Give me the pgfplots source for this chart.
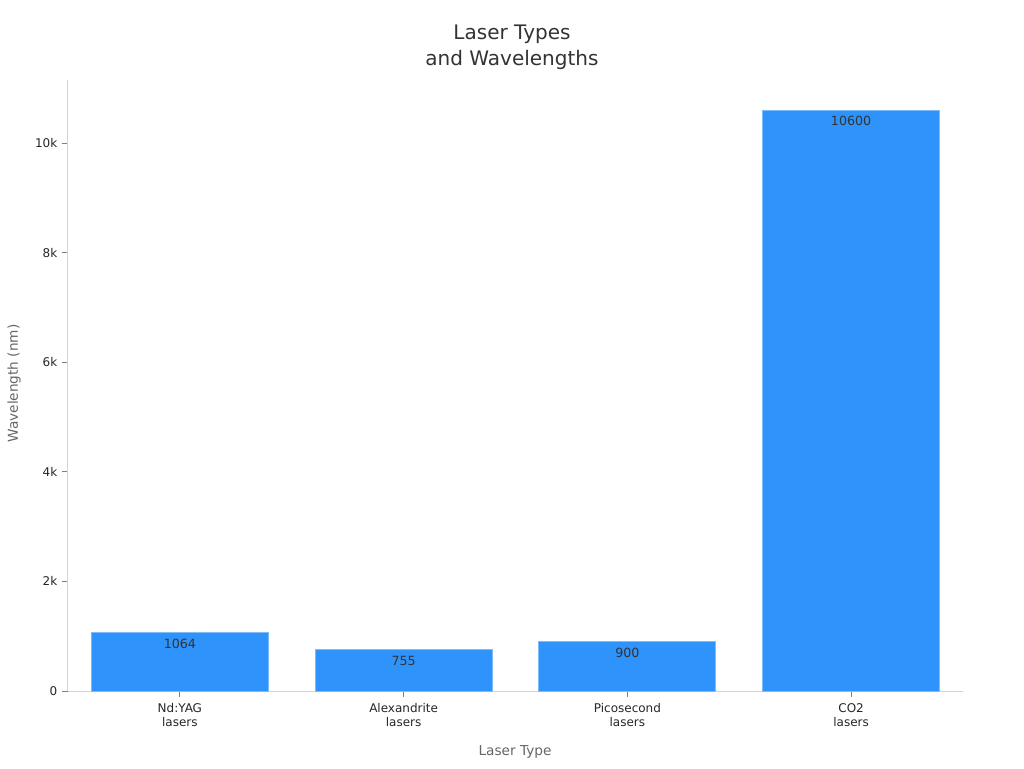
\documentclass[border=0pt]{standalone}
\usepackage{pgfplots}
\pgfplotsset{compat=1.18}
\usepackage{fontspec}
\setmainfont{DejaVu Sans}
\definecolor{barblue}{HTML}{2E93FA}
\definecolor{baredge}{HTML}{7DBBFB}
\definecolor{axisgray}{HTML}{D3D3D3}
\definecolor{labgray}{HTML}{666666}
\definecolor{textdark}{HTML}{333333}
\definecolor{tickdark}{HTML}{262626}
\begin{document}
\begin{tikzpicture}
\path[use as bounding box] (0,0) rectangle (768pt,576pt);
\begin{axis}[
  at={(51pt,57.75pt)}, anchor=south west,
  scale only axis, width=671.25pt, height=458.25pt,
  xmin=-0.5, xmax=3.5, ymin=0, ymax=11150,
  axis x line*=bottom, axis y line*=left,
  axis line style={axisgray, line width=0.75pt},
  scaled y ticks=false,
  /pgf/number format/assume math mode=true,
  /pgf/number format/1000 sep={},
  xtick={0,1,2,3},
  xticklabels={{Nd:YAG\\lasers},{Alexandrite\\lasers},{Picosecond\\lasers},{CO2\\lasers}},
  xticklabel style={align=center, font=\fontsize{9}{10.5}\selectfont, text=tickdark, yshift=-1.5pt},
  ytick={0,2000,4000,6000,8000,10000},
  yticklabels={0,2k,4k,6k,8k,10k},
  yticklabel style={font=\fontsize{9}{10.5}\selectfont, text=tickdark},
  tick align=outside, major tick length=4.5pt,
  tick style={color=gray, line width=0.6pt},
  ybar, bar width=132.75pt,
  nodes near coords,
  every node near coord/.append style={anchor=north, yshift=-1pt, font=\fontsize{9.5}{11}\selectfont, text=textdark},
]
\addplot[fill=barblue, draw=baredge, line width=0.75pt] coordinates {(0,1064) (1,755) (2,900) (3,10600)};
\end{axis}
\node[align=center, font=\fontsize{15}{19.5}\selectfont, text=textdark] at (384pt,540.75pt) {Laser Types\\and Wavelengths};
\node[font=\fontsize{10.25}{12}\selectfont, text=labgray] at (386.25pt,12pt) {Laser Type};
\node[rotate=90, font=\fontsize{10.25}{12}\selectfont, text=labgray] at (10.5pt,288.4pt) {Wavelength (nm)};
\end{tikzpicture}
\end{document}
